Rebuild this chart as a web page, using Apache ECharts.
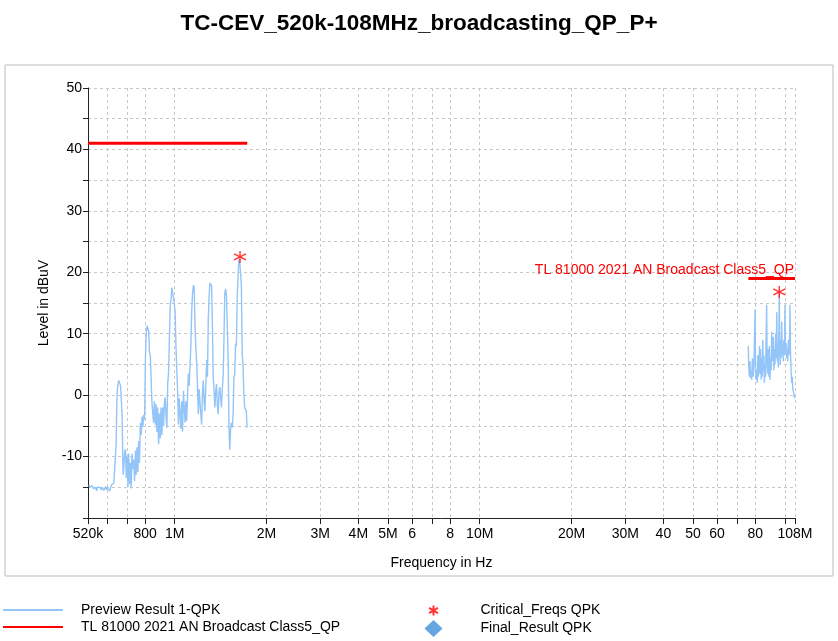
<!DOCTYPE html>
<html>
<head>
<meta charset="utf-8">
<script src="https://cdn.jsdelivr.net/npm/echarts@6/dist/echarts.min.js"></script>
<style>
html,body{margin:0;padding:0;background:#fff;}
#chart{width:838px;height:641px;}
</style>
</head>
<body>
<div id="chart"></div>
<script>
// ---- Data (frequency in MHz, level in dBuV) ----
const titleText = 'TC-CEV_520k-108MHz_broadcasting_QP_P+';
const previewName = 'Preview Result 1-QPK';
const limitName = 'TL 81000 2021 AN Broadcast Class5_QP';
const criticalName = 'Critical_Freqs QPK';
const finalName = 'Final_Result QPK';

const xTickValues = [0.52,0.6,0.7,0.8,1,2,3,4,5,6,7,8,10,20,30,40,50,60,70,80,100,108];
const xTickLabels = {'0.52':'520k','0.8':'800','1':'1M','2':'2M','3':'3M','4':'4M','5':'5M','6':'6','8':'8','10':'10M','20':'20M','30':'30M','40':'40','50':'50','60':'60','80':'80','108':'108M'};

const amBand = [
[0.524,-14.6],[0.527,-15.0],[0.531,-14.8],[0.534,-15.3],[0.537,-14.7],[0.541,-15.2],[0.544,-15.5],[0.548,-14.9],
[0.551,-15.0],[0.555,-15.6],[0.558,-15.0],[0.562,-14.7],[0.565,-15.3],[0.569,-15.0],[0.572,-14.8],[0.576,-15.4],
[0.579,-15.0],[0.583,-14.8],[0.586,-15.5],[0.590,-15.2],[0.594,-14.9],[0.598,-15.4],[0.601,-15.0],[0.605,-14.7],
[0.609,-15.2],[0.613,-15.6],[0.617,-15.0],[0.621,-14.6],[0.624,-14.9],[0.628,-14.5],[0.632,-14.3],[0.636,-14.6],
[0.640,-14.0],[0.643,-8.0],[0.646,-2.0],[0.648,0.5],[0.652,1.8],[0.656,2.4],[0.660,2.0],[0.665,1.5],
[0.669,-1.0],[0.673,-3.5],[0.676,-10.0],[0.678,-13.0],[0.681,-12.0],[0.685,-9.5],[0.690,-8.8],[0.694,-13.5],
[0.699,-10.0],[0.703,-15.0],[0.707,-9.5],[0.712,-14.5],[0.716,-11.0],[0.720,-15.2],[0.725,-9.5],[0.730,-12.0],
[0.734,-10.5],[0.739,-14.0],[0.744,-9.0],[0.748,-13.0],[0.753,-8.5],[0.758,-12.5],[0.762,-7.5],[0.767,-11.0],
[0.772,-4.5],[0.777,-6.5],[0.782,-3.5],[0.787,-5.0],[0.792,-3.2],[0.797,-4.0],[0.802,6.0],[0.806,9.5],
[0.812,11.3],[0.817,11.0],[0.822,10.5],[0.827,7.0],[0.832,6.5],[0.837,3.0],[0.842,-1.0],[0.848,-3.0],
[0.853,-4.5],[0.858,-1.0],[0.864,-4.8],[0.869,-1.5],[0.875,-6.0],[0.880,-2.0],[0.886,-8.0],[0.891,-3.0],
[0.897,-7.0],[0.902,-2.0],[0.908,-6.5],[0.914,-2.0],[0.920,-5.0],[0.925,-1.5],[0.931,-0.4],[0.937,-3.5],
[0.943,-5.3],[0.949,2.0],[0.955,3.5],[0.961,9.0],[0.967,14.5],[0.973,15.5],[0.979,17.5],[0.985,17.3],
[0.991,17.2],[0.997,15.0],[1.004,13.4],[1.010,8.0],[1.016,4.3],[1.023,0.5],[1.029,-4.8],[1.035,-0.5],
[1.042,-3.0],[1.048,-5.5],[1.055,-1.0],[1.062,-5.9],[1.069,0.7],[1.075,-2.0],[1.082,-4.5],[1.088,-1.0],
[1.095,-4.2],[1.102,-0.5],[1.109,3.5],[1.116,1.5],[1.123,4.6],[1.130,8.0],[1.137,13.4],[1.144,16.5],
[1.152,17.9],[1.159,17.5],[1.166,11.7],[1.173,8.0],[1.181,5.1],[1.188,1.5],[1.196,-3.1],[1.203,1.0],
[1.211,0.7],[1.218,-3.0],[1.226,-4.8],[1.234,0.5],[1.241,2.4],[1.249,-1.0],[1.257,-2.6],[1.265,1.5],
[1.273,5.7],[1.281,3.0],[1.289,12.3],[1.297,16.0],[1.305,18.3],[1.313,18.0],[1.322,17.7],[1.330,11.2],
[1.338,2.9],[1.346,1.0],[1.355,-2.0],[1.363,0.5],[1.372,1.8],[1.380,-1.5],[1.389,-3.1],[1.398,0.5],
[1.407,1.3],[1.415,-0.5],[1.424,-2.0],[1.433,1.0],[1.442,3.2],[1.451,9.0],[1.460,16.6],[1.470,17.3],
[1.479,16.1],[1.488,11.0],[1.498,5.7],[1.507,-5.3],[1.516,-8.9],[1.526,-5.3],[1.535,-4.5],[1.545,-5.3],
[1.555,-3.0],[1.564,2.9],[1.574,3.5],[1.584,8.4],[1.594,8.0],[1.604,16.0],[1.614,19.4],[1.624,22.1],
[1.635,21.5],[1.645,19.9],[1.655,17.7],[1.665,6.8],[1.676,4.6],[1.686,0.2],[1.697,-2.0],[1.707,-2.3],
[1.718,-2.6],[1.727,-5.3]
];

const fmBand = [
[75.9,8.0],[76.2,4.5],[76.5,3.0],[76.9,5.5],[77.2,2.8],[77.5,4.0],[77.9,2.5],[78.3,6.0],[78.8,3.0],[79.2,4.5],
[79.6,10.0],[79.9,14.0],[80.2,5.0],[80.5,2.5],[80.9,4.0],[81.3,2.0],[81.6,6.5],[81.9,3.0],[82.3,5.0],[82.6,8.0],
[82.9,3.5],[83.3,7.5],[83.7,2.5],[84.0,6.0],[84.4,3.0],[84.7,9.0],[85.0,4.0],[85.4,6.5],[85.7,2.0],[86.1,5.0],
[86.5,3.0],[86.8,9.0],[87.2,14.7],[87.5,5.0],[87.9,3.5],[88.3,7.5],[88.7,3.0],[89.0,8.0],[89.4,2.5],[89.8,6.0],
[90.2,4.0],[90.6,10.3],[91.0,5.5],[91.3,8.0],[91.7,9.5],[92.1,4.0],[92.5,7.5],[92.9,5.0],[93.3,10.0],[93.7,6.0],
[94.1,13.5],[94.5,5.5],[94.9,8.0],[95.2,4.5],[95.6,10.0],[95.9,16.8],[96.2,8.5],[96.6,5.0],[97.0,9.0],[97.3,6.0],
[97.7,12.0],[98.1,6.5],[98.5,8.5],[98.9,5.5],[99.3,9.0],[99.7,6.5],[100.1,14.7],[100.5,7.0],[101.0,8.5],[101.4,6.0],
[101.8,7.5],[102.3,5.5],[102.7,9.0],[103.1,6.5],[103.6,8.0],[104.0,14.7],[104.4,7.0],[104.9,4.0],[105.3,2.0],[105.8,3.0],
[106.2,1.0],[106.6,0.8],[107.1,0.2],[107.5,-0.3],[108.0,-0.5]
];

const limitAm = [[0.52,41],[1.73,41]];
const limitFm = [[76,19],[108,19]];
const criticalFreqs = [[1.638,22.5],[95.9,16.8]];
const finalResults = [];

// ---- Chart ----
const chart = echarts.init(document.getElementById('chart'));
const font = 'Liberation Sans, Arial, sans-serif';
const starPath = 'path://M6,0L6,12M0.8,3L11.2,9M0.8,9L11.2,3';
const starLegendPath = 'path://M-4,-4M16,16M6,0L6,12M0.8,3L11.2,9M0.8,9L11.2,3';

const option = {
  backgroundColor: '#fff',
  animation: false,
  textStyle: {fontFamily: font, color: '#000'},
  title: {
    text: titleText, left: 'center', top: 7,
    textStyle: {fontFamily: font, fontSize: 22.5, fontWeight: 'bold', color: '#000'}
  },
  graphic: [{
    type: 'rect', z: -1, silent: true,
    shape: {x: 5, y: 65, width: 828, height: 511},
    style: {fill: '#fff', stroke: '#bdbdbd', lineWidth: 1}
  }],
  legend: [{
    left: 2, top: 603, orient: 'vertical', itemGap: 3, padding: 0,
    itemWidth: 60, itemHeight: 14,
    itemStyle: {opacity: 0},
    data: [previewName, limitName],
    textStyle: {fontFamily: font, fontSize: 14, color: '#000', padding: [0,0,0,13]}
  },{
    left: 424, top: 601, orient: 'vertical', itemGap: 0, padding: 0,
    itemWidth: 18, itemHeight: 17,
    data: [{name: criticalName, icon: starLegendPath}, finalName],
    textStyle: {fontFamily: font, fontSize: 14, color: '#000', padding: [0,0,0,33]}
  }],
  grid: {left: 88, right: 43, top: 88, bottom: 123, containLabel: false},
  xAxis: {
    type: 'log', logBase: 10, min: 0.52, max: 108,
    name: 'Frequency in Hz', nameLocation: 'middle', nameGap: 38,
    nameTextStyle: {fontFamily: font, fontSize: 14, color: '#000'},
    axisLine: {show: true, onZero: false, lineStyle: {color: '#222', width: 1}},
    axisTick: {show: true, length: 6, customValues: xTickValues, lineStyle: {color: '#222'}},
    axisLabel: {
      customValues: xTickValues, margin: 9, fontSize: 14, color: '#000', fontFamily: font,
      showMinLabel: true, showMaxLabel: true,
      formatter: function (v) {
        const k = String(Math.round(v * 100) / 100);
        return xTickLabels[k] || '';
      }
    },
    splitLine: {show: true, lineStyle: {color: '#c8c8c8', type: [3, 3], width: 1}}
  },
  yAxis: {
    type: 'value', min: -20, max: 50, interval: 5,
    name: 'Level in dBuV', nameLocation: 'middle', nameGap: 37, nameRotate: 90,
    nameTextStyle: {fontFamily: font, fontSize: 14, color: '#000'},
    axisLine: {show: true, lineStyle: {color: '#222', width: 1}},
    axisTick: {show: true, length: 5, lineStyle: {color: '#222'}},
    axisLabel: {
      fontSize: 14, color: '#000', fontFamily: font, margin: 6,
      formatter: function (v) { return (v % 10 === 0 && v !== -20) ? String(v) : ''; }
    },
    splitLine: {show: true, lineStyle: {color: '#c8c8c8', type: [3, 3], width: 1}}
  },
  series: [
    {name: previewName, type: 'line', data: amBand, symbol: 'none', z: 2,
     lineStyle: {color: '#93c5f8', width: 1.4}, itemStyle: {color: '#93c5f8'}},
    {name: previewName, type: 'line', data: fmBand, symbol: 'none', z: 2,
     lineStyle: {color: '#93c5f8', width: 1.4}, itemStyle: {color: '#93c5f8'}},
    {name: limitName, type: 'line', data: limitAm, symbol: 'none', z: 3,
     lineStyle: {color: '#ff0000', width: 3}, itemStyle: {color: '#ff0000'}},
    {name: limitName, type: 'line', data: limitFm, symbol: 'none', z: 3,
     endLabel: {show: true, formatter: limitName, color: '#ff0000', fontSize: 14, fontFamily: font,
       align: 'right', verticalAlign: 'bottom', distance: 0, offset: [-1, -1]},
     lineStyle: {color: '#ff0000', width: 3}, itemStyle: {color: '#ff0000'}},
    {name: criticalName, type: 'scatter', data: criticalFreqs, symbol: starPath, symbolSize: 12, z: 4,
     itemStyle: {color: 'rgba(255,0,0,0)', borderColor: '#ff0000', borderWidth: 1.4}},
    {name: finalName, type: 'scatter', data: finalResults, symbol: 'diamond', symbolSize: 14, z: 4,
     itemStyle: {color: '#3f8fd8'}}
  ]
};
chart.setOption(option);
</script>
</body>
</html>
